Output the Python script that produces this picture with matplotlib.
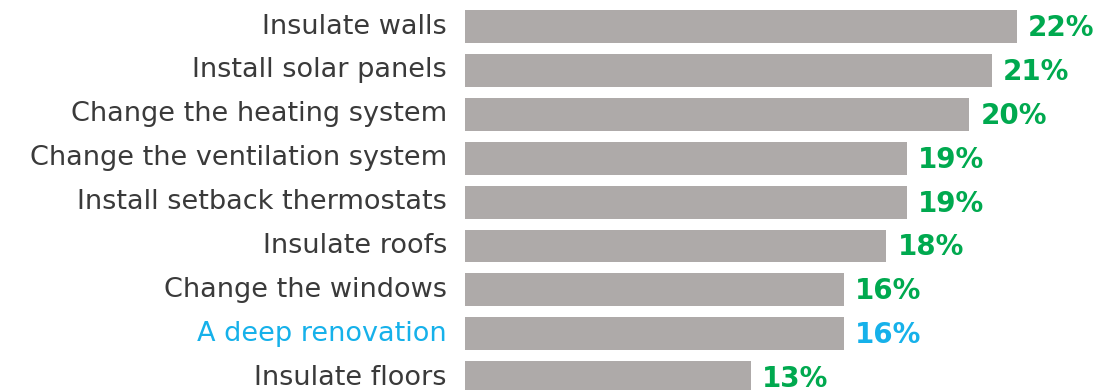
import matplotlib
matplotlib.use('Agg')
from matplotlib import pyplot as plt

# Data
categories = ['Insulate walls', 'Install solar panels', 'Change the heating system',
              'Change the ventilation system', 'Install setback thermostats',
              'Insulate roofs', 'Change the windows', 'A deep renovation', 'Insulate floors']
bar_lengths = [22.0, 21.0, 20.1, 17.6, 17.6, 16.8, 15.1, 15.1, 11.4]   # as drawn
pct_labels = [22, 21, 20, 19, 19, 18, 16, 16, 13]                       # as printed
highlight = 'A deep renovation'

bar_color = '#aeaaa9'
green = '#00a94f'
blue = '#16b1ea'
text_color = '#3a3a3a'

fig = plt.figure(figsize=(10.98, 3.90), dpi=100)
ax = fig.add_axes([465 / 1098, 0, 633 / 1098, 1])

y = list(range(len(categories)))
ax.barh(y, bar_lengths, height=0.75, color=bar_color)

ax.set_ylim(8.28, -0.604)
ax.set_xlim(0, 25.23)
ax.axis('off')

for i in range(len(categories)):
    c = blue if categories[i] == highlight else green
    tc = blue if categories[i] == highlight else text_color
    ax.annotate(categories[i], (0, y[i]), xytext=(-13, 0), textcoords='offset points',
                ha='right', va='center', fontsize=19.5, color=tc, family='DejaVu Sans')
    ax.annotate(f'{pct_labels[i]}%', (bar_lengths[i], y[i]), xytext=(8, -1),
                textcoords='offset points', ha='left', va='center',
                fontsize=20, fontweight='bold', color=c, family='DejaVu Sans')

fig.savefig('out.png', dpi=100)
